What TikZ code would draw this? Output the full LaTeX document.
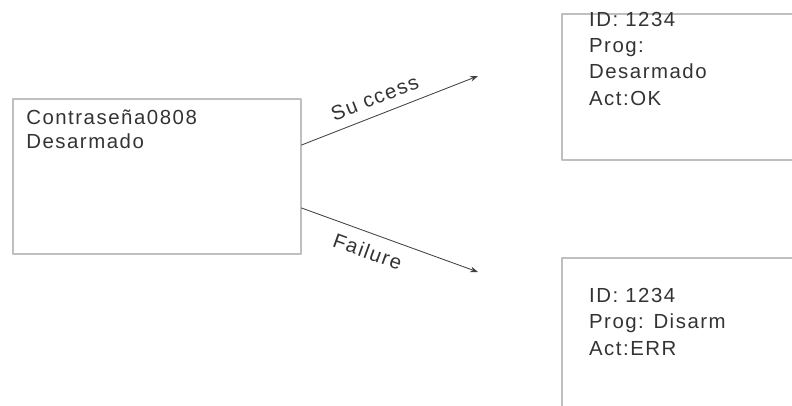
\documentclass[tikz,border=0pt]{standalone}
\usepackage{fontspec}
\newfontfamily\boxfont{Liberation Sans}[LetterSpace=7.5]
\usetikzlibrary{arrows.meta,positioning}

\begin{document}
\begin{tikzpicture}[line cap=round,line join=round,
    frame/.style={draw=black!25,line width=0.8pt,inner sep=0pt},
    boxtext/.style={font=\boxfont\fontsize{14.5}{17}\selectfont,inner sep=0pt,align=left,text=black!80},
    flow/.style={-{Stealth[length=5.5pt,width=4pt]},draw=black!75,line width=0.6pt}]

        \useasboundingbox (0,0) rectangle (19.8,-10.125);

        % --- Boxes ---
        \node[frame,minimum width=7.2cm,minimum height=3.875cm] (pwd) at (3.925,-4.4125) {};
        \node[frame,minimum width=6.2cm,minimum height=3.65cm] (ok) at (17.15,-2.175) {};
        \node[frame,minimum width=6.2cm,minimum height=4.05cm] (err) at (17.15,-8.475) {};

        % box contents (placed by their last baseline)
        \node[boxtext,anchor=base west] (pwdtext) at (0.65,-3.71) {Contraseña0808\\Desarmado};
        \node[boxtext,anchor=base west,font=\boxfont\fontsize{14.5}{18.5}\selectfont] (oktext) at (14.72,-2.625) {ID: 1234\\Prog:\\Desarmado\\Act:OK};
        \node[boxtext,anchor=base west,font=\boxfont\fontsize{14.5}{18.5}\selectfont] (errtext) at (14.72,-8.875) {ID: 1234\\Prog: Disarm\\Act:ERR};

        % arrow ends
        \coordinate (okend) at (11.95,-1.9);
        \coordinate (errend) at (11.95,-6.8);

        % Success branch
        \draw[flow] ([yshift=0.7875cm]pwd.east) -- (okend)
        node[boxtext,pos=0.45,sloped,above=0.24cm] (oklabel) {Su ccess};

        % Failure branch
        \draw[flow] ([yshift=-0.7875cm]pwd.east) -- (errend)
        node[boxtext,pos=0.41,sloped,below=0.26cm] (errlabel) {Failure};

\end{tikzpicture}
\end{document}
